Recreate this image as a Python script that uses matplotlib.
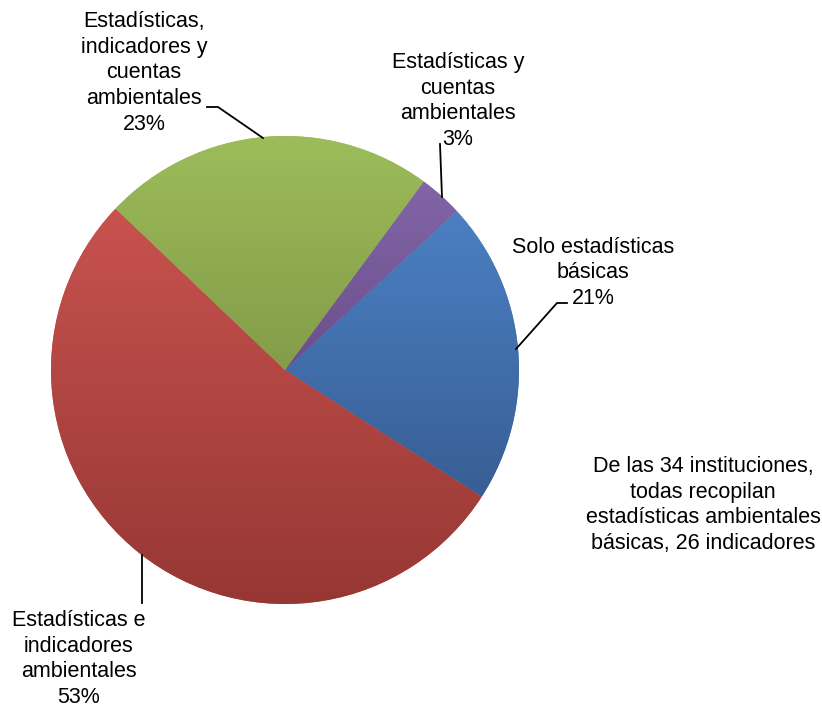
import numpy as np
import matplotlib
matplotlib.use("Agg")
import matplotlib.pyplot as plt
from matplotlib.colors import LinearSegmentedColormap

# datos (porcentaje de instituciones)
categorias = ["Solo estadísticas\nbásicas",
              "Estadísticas e\nindicadores\nambientales",
              "Estadísticas,\nindicadores y\ncuentas\nambientales",
              "Estadísticas y\ncuentas\nambientales"]
valores = [21, 53, 23, 3]
nota = "De las 34 instituciones,\ntodas recopilan\nestadísticas ambientales\nbásicas, 26 indicadores"

# colores: (claro arriba, oscuro abajo)
colores = [("#4b80c3", "#385e94"),
           ("#c8524e", "#963734"),
           ("#9dbd5a", "#839c49"),
           ("#8265a6", "#6a4e8c")]

plt.rcParams['font.family'] = ['Liberation Sans', 'DejaVu Sans']

W, H = 822, 708
cx, cy, R = 285, 370, 234  # pixel center / radius


def px(x, y):
    # pixel -> coordenadas de datos (radio = 1)
    return (x - cx) / R, (cy - y) / R


fig = plt.figure(figsize=(W / 100, H / 100), dpi=100)
ax = fig.add_axes([0, 0, 1, 1])
ax.axis('off')

wedges, _ = ax.pie(valores, startangle=42.8, counterclock=False,
                   colors=[c[0] for c in colores], radius=1,
                   wedgeprops=dict(linewidth=0))

# degradado vertical en cada porcion
for w, (top, bot) in zip(wedges, colores):
    v = w.get_path().vertices
    y0, y1 = v[:, 1].min(), v[:, 1].max()
    x0, x1 = v[:, 0].min(), v[:, 0].max()
    cmap = LinearSegmentedColormap.from_list("g", [bot, top])
    grad = np.linspace(0, 1, 256).reshape(-1, 1)
    im = ax.imshow(grad, extent=[x0, x1, y0, y1], origin='lower',
                   cmap=cmap, aspect='auto', interpolation='bilinear',
                   zorder=3)
    im.set_clip_path(w)

ax.set_xlim(px(0, 0)[0], px(W, 0)[0])
ax.set_ylim(px(0, H)[1], px(0, 0)[1])

fs = 15.5
ls = 1.3
etiquetas = [f"{c}\n{v}%" for c, v in zip(categorias, valores)]
pos_texto = [(593, 273), (79, 659), (144, 73), (458, 101)]
lineas = [[(567, 303), (557, 303), (516, 349)],
          [(142, 603), (142, 555)],
          [(207, 107), (218, 107), (263, 138)],
          [(440, 144), (442, 197)]]

for txt, (tx, ty), ln in zip(etiquetas, pos_texto, lineas):
    x, y = px(tx, ty)
    ax.text(x, y, txt, ha='center', va='center', fontsize=fs,
            linespacing=ls, color='black', zorder=5)
    pts = np.array([px(a, b) for a, b in ln])
    ax.plot(pts[:, 0], pts[:, 1], color='black', lw=1.3, zorder=5)

x, y = px(703, 505)
ax.text(x, y, nota, ha='center', va='center', fontsize=fs,
        linespacing=ls, color='black', zorder=5)

fig.savefig("out.png", dpi=100)
